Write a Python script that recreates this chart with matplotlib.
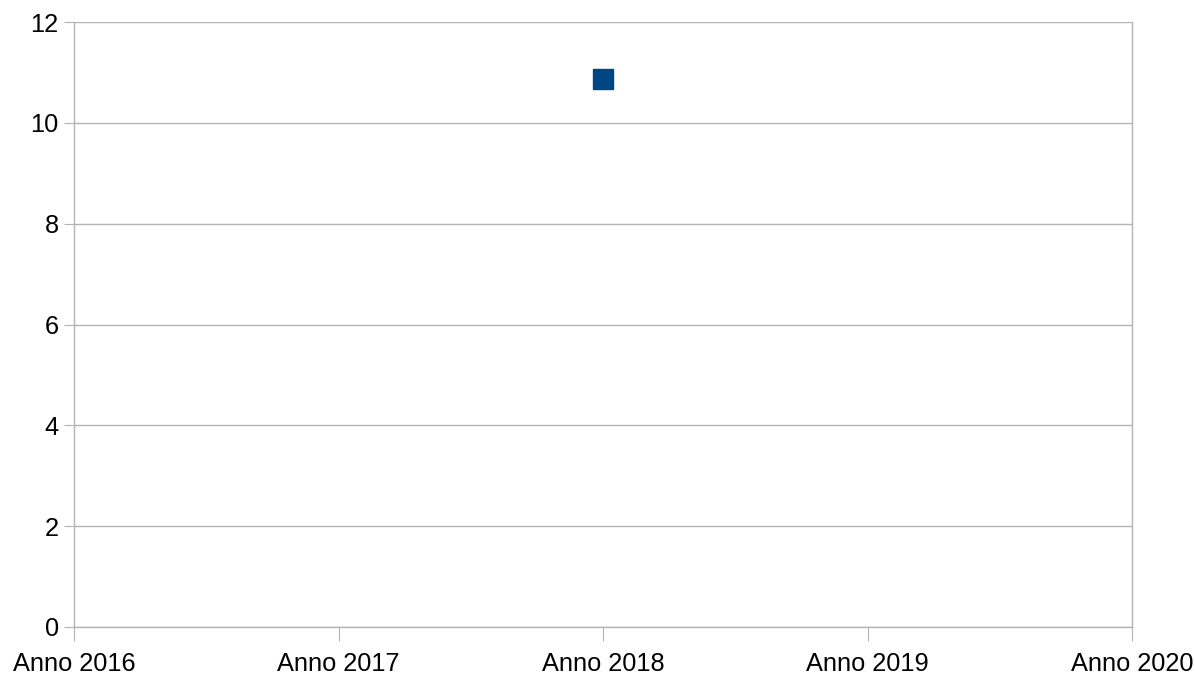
import matplotlib
matplotlib.use("Agg")
import matplotlib.pyplot as plt

categories = ["Anno 2016", "Anno 2017", "Anno 2018", "Anno 2019", "Anno 2020"]
values = [None, None, 10.87, None, None]
yticks = [0, 2, 4, 6, 8, 10, 12]

plt.rcParams['font.family'] = ['Liberation Sans', 'DejaVu Sans']

fig = plt.figure(figsize=(11.95, 6.75), dpi=100)
ax = fig.add_axes([74/1195, 48/675, (1132-74)/1195, (627-22)/675])

xs = [i for i, v in enumerate(values) if v is not None]
ys = [v for v in values if v is not None]
ax.plot(xs, ys, linestyle='none', marker='s', markersize=14, color='#004586')

ax.set_xlim(0, len(categories) - 1)
ax.set_ylim(0, 12)
ax.set_xticks(range(len(categories)))
ax.set_xticklabels(categories, fontsize=18.3)
ax.set_yticks(yticks)
ax.set_yticklabels([str(t) for t in yticks], fontsize=18.3)

ax.grid(axis='y', color='#b3b3b3', linewidth=1)
ax.set_axisbelow(True)
for s in ax.spines.values():
    s.set_color('#b3b3b3')
    s.set_linewidth(1)
ax.spines['top'].set_visible(False)
ax.tick_params(axis='x', length=10, color='#b3b3b3', pad=8)
ax.tick_params(axis='y', length=7, color='#b3b3b3', pad=4)

fig.savefig("out.png", dpi=100)
